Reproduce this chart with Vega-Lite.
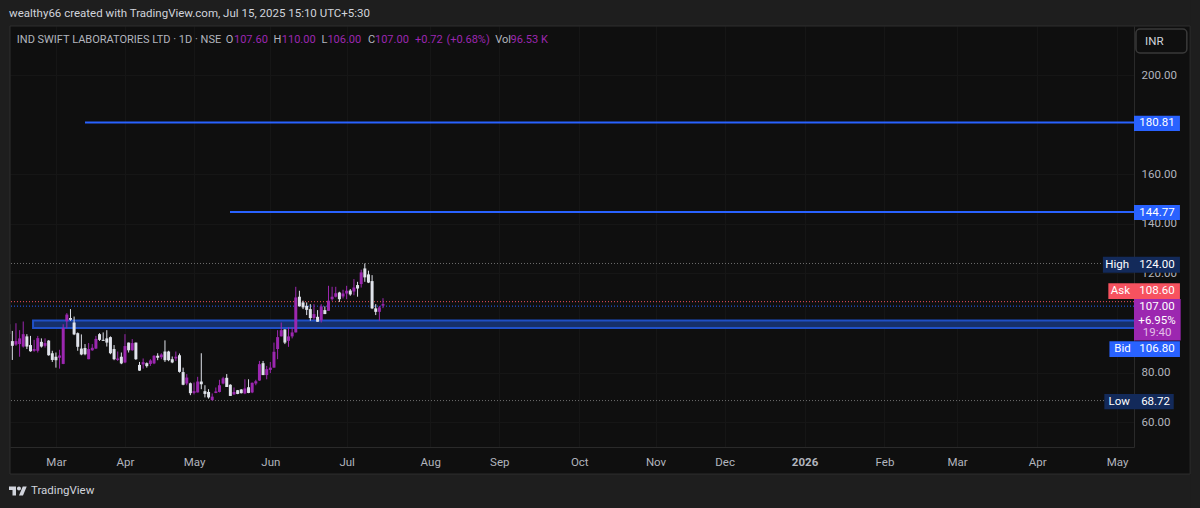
{"$schema":"https://vega.github.io/schema/vega-lite/v6.json","width":1124,"height":421,"autosize":{"type":"none"},"padding":{"left":10,"top":26,"right":66,"bottom":61},"background":"#0f0f0f",
"config":{"view":{"stroke":null},"text":{"font":"Roboto","fontSize":12},"axis":{"labelFont":"Roboto"}},
"datasets":{
"candles":[
{"bar":0,"high":100.2,"low":95.1,"open":99.5,"close":95.5,"kind":"down"},
{"bar":1,"high":96.8,"low":85.1,"open":92.7,"close":90.8,"kind":"down"},
{"bar":2,"high":99.9,"low":90.8,"open":91.3,"close":92.7,"kind":"up"},
{"bar":3,"high":97.1,"low":86.4,"open":91.5,"close":93.8,"kind":"up"},
{"bar":4,"high":100.6,"low":90.1,"open":90.5,"close":95.5,"kind":"up"},
{"bar":5,"high":95.5,"low":89.5,"open":94.6,"close":90.5,"kind":"down"},
{"bar":6,"high":94.8,"low":88.4,"open":91.1,"close":88.6,"kind":"down"},
{"bar":7,"high":93.2,"low":88.4,"open":88.8,"close":89.5,"kind":"up"},
{"bar":8,"high":94.8,"low":88.1,"open":88.8,"close":93.9,"kind":"up"},
{"bar":9,"high":93.8,"low":90.1,"open":92.4,"close":90.5,"kind":"down"},
{"bar":10,"high":93.8,"low":90.1,"open":90.8,"close":91.9,"kind":"up"},
{"bar":11,"high":93.1,"low":86.8,"open":92.9,"close":87.0,"kind":"down"},
{"bar":12,"high":88.8,"low":84.3,"open":87.8,"close":85.1,"kind":"down"},
{"bar":13,"high":88.1,"low":82.0,"open":86.4,"close":85.0,"kind":"down"},
{"bar":14,"high":89.2,"low":81.6,"open":86.0,"close":86.9,"kind":"up"},
{"bar":15,"high":99.5,"low":83.4,"open":83.5,"close":98.0,"kind":"up"},
{"bar":16,"high":104.0,"low":97.8,"open":100.7,"close":103.4,"kind":"up"},
{"bar":17,"high":105.6,"low":100.9,"open":102.0,"close":101.3,"kind":"down"},
{"bar":18,"high":102.6,"low":95.1,"open":100.2,"close":95.4,"kind":"down"},
{"bar":19,"high":96.2,"low":88.8,"open":95.9,"close":90.4,"kind":"down"},
{"bar":20,"high":95.4,"low":87.0,"open":89.7,"close":87.3,"kind":"down"},
{"bar":21,"high":91.5,"low":87.0,"open":89.9,"close":87.4,"kind":"down"},
{"bar":22,"high":91.9,"low":85.4,"open":85.4,"close":89.5,"kind":"up"},
{"bar":23,"high":91.5,"low":88.8,"open":89.0,"close":90.0,"kind":"up"},
{"bar":24,"high":94.8,"low":89.5,"open":89.7,"close":93.6,"kind":"up"},
{"bar":25,"high":95.9,"low":92.8,"open":95.5,"close":93.2,"kind":"down"},
{"bar":26,"high":96.2,"low":92.8,"open":93.2,"close":92.8,"kind":"down"},
{"bar":27,"high":97.1,"low":90.5,"open":93.8,"close":92.1,"kind":"down"},
{"bar":28,"high":94.6,"low":87.4,"open":94.3,"close":87.8,"kind":"down"},
{"bar":29,"high":91.1,"low":85.0,"open":89.5,"close":85.4,"kind":"down"},
{"bar":30,"high":88.5,"low":84.7,"open":85.1,"close":85.7,"kind":"up"},
{"bar":31,"high":88.1,"low":83.4,"open":86.4,"close":83.7,"kind":"down"},
{"bar":32,"high":95.5,"low":83.8,"open":84.1,"close":90.7,"kind":"up"},
{"bar":33,"high":92.1,"low":88.1,"open":92.1,"close":89.0,"kind":"down"},
{"bar":34,"high":93.5,"low":88.8,"open":89.0,"close":91.9,"kind":"up"},
{"bar":35,"high":92.1,"low":85.1,"open":92.1,"close":85.4,"kind":"down"},
{"bar":36,"high":84.3,"low":80.7,"open":83.1,"close":80.8,"kind":"down"},
{"bar":37,"high":85.7,"low":81.6,"open":83.3,"close":84.2,"kind":"up"},
{"bar":38,"high":84.1,"low":82.0,"open":83.8,"close":82.6,"kind":"down"},
{"bar":39,"high":85.4,"low":82.7,"open":83.5,"close":84.9,"kind":"up"},
{"bar":40,"high":87.0,"low":83.4,"open":83.7,"close":86.8,"kind":"up"},
{"bar":41,"high":87.8,"low":85.0,"open":86.8,"close":86.0,"kind":"down"},
{"bar":42,"high":87.8,"low":85.4,"open":86.2,"close":87.3,"kind":"up"},
{"bar":43,"high":93.0,"low":84.3,"open":88.5,"close":85.0,"kind":"down"},
{"bar":44,"high":88.8,"low":84.6,"open":88.5,"close":85.0,"kind":"down"},
{"bar":45,"high":86.5,"low":83.8,"open":85.4,"close":84.1,"kind":"down"},
{"bar":46,"high":88.5,"low":84.7,"open":85.7,"close":86.4,"kind":"up"},
{"bar":47,"high":87.7,"low":80.0,"open":87.0,"close":80.3,"kind":"down"},
{"bar":48,"high":82.0,"low":74.9,"open":80.2,"close":75.1,"kind":"down"},
{"bar":49,"high":79.4,"low":74.9,"open":75.6,"close":78.0,"kind":"up"},
{"bar":50,"high":76.0,"low":70.9,"open":75.7,"close":71.7,"kind":"down"},
{"bar":51,"high":76.0,"low":71.2,"open":71.8,"close":72.5,"kind":"up"},
{"bar":52,"high":78.3,"low":72.0,"open":72.0,"close":76.4,"kind":"up"},
{"bar":53,"high":87.8,"low":73.3,"open":76.4,"close":75.3,"kind":"down"},
{"bar":54,"high":74.9,"low":70.0,"open":72.5,"close":71.4,"kind":"down"},
{"bar":55,"high":73.3,"low":69.5,"open":72.2,"close":70.0,"kind":"down"},
{"bar":56,"high":71.6,"low":68.72,"open":68.9,"close":70.3,"kind":"up"},
{"bar":57,"high":74.0,"low":71.7,"open":71.8,"close":72.4,"kind":"up"},
{"bar":58,"high":77.1,"low":72.0,"open":72.2,"close":74.9,"kind":"up"},
{"bar":59,"high":78.3,"low":75.3,"open":75.6,"close":77.7,"kind":"up"},
{"bar":60,"high":79.4,"low":74.2,"open":77.9,"close":74.2,"kind":"down"},
{"bar":61,"high":75.3,"low":70.6,"open":75.1,"close":70.6,"kind":"down"},
{"bar":62,"high":74.0,"low":71.0,"open":71.2,"close":72.2,"kind":"up"},
{"bar":63,"high":73.0,"low":71.3,"open":72.9,"close":71.4,"kind":"down"},
{"bar":64,"high":73.3,"low":71.6,"open":73.2,"close":71.7,"kind":"down"},
{"bar":65,"high":77.3,"low":71.3,"open":71.6,"close":73.6,"kind":"up"},
{"bar":66,"high":77.3,"low":71.7,"open":74.1,"close":71.8,"kind":"down"},
{"bar":67,"high":76.0,"low":71.7,"open":72.0,"close":75.9,"kind":"up"},
{"bar":68,"high":77.1,"low":74.9,"open":75.6,"close":76.5,"kind":"up"},
{"bar":69,"high":84.7,"low":76.7,"open":76.8,"close":83.4,"kind":"up"},
{"bar":70,"high":84.7,"low":79.0,"open":83.8,"close":79.0,"kind":"down"},
{"bar":71,"high":82.7,"low":77.3,"open":79.0,"close":81.4,"kind":"up"},
{"bar":72,"high":84.3,"low":79.8,"open":81.1,"close":82.0,"kind":"up"},
{"bar":73,"high":92.1,"low":82.0,"open":82.0,"close":88.4,"kind":"up"},
{"bar":74,"high":97.1,"low":85.4,"open":89.5,"close":94.3,"kind":"up"},
{"bar":75,"high":100.2,"low":94.6,"open":94.6,"close":97.1,"kind":"up"},
{"bar":76,"high":97.5,"low":91.5,"open":97.4,"close":92.1,"kind":"down"},
{"bar":77,"high":98.2,"low":90.4,"open":92.8,"close":94.6,"kind":"up"},
{"bar":78,"high":98.2,"low":93.8,"open":94.6,"close":96.2,"kind":"up"},
{"bar":79,"high":114.6,"low":96.2,"open":96.2,"close":110.3,"kind":"up"},
{"bar":80,"high":113.0,"low":106.7,"open":110.6,"close":106.7,"kind":"down"},
{"bar":81,"high":109.0,"low":105.6,"open":108.3,"close":106.3,"kind":"down"},
{"bar":82,"high":108.3,"low":103.2,"open":106.9,"close":105.3,"kind":"down"},
{"bar":83,"high":107.6,"low":100.9,"open":105.6,"close":102.0,"kind":"down"},
{"bar":84,"high":107.6,"low":101.3,"open":102.0,"close":103.6,"kind":"up"},
{"bar":85,"high":105.2,"low":100.5,"open":102.5,"close":100.5,"kind":"down"},
{"bar":86,"high":107.6,"low":100.2,"open":101.1,"close":106.7,"kind":"up"},
{"bar":87,"high":106.7,"low":103.6,"open":105.2,"close":103.6,"kind":"down"},
{"bar":88,"high":115.0,"low":104.9,"open":104.9,"close":109.0,"kind":"up"},
{"bar":89,"high":114.6,"low":109.0,"open":109.6,"close":110.6,"kind":"up"},
{"bar":90,"high":114.6,"low":110.3,"open":110.6,"close":112.0,"kind":"up"},
{"bar":91,"high":112.6,"low":108.5,"open":112.3,"close":109.6,"kind":"down"},
{"bar":92,"high":113.4,"low":109.9,"open":110.7,"close":111.9,"kind":"up"},
{"bar":93,"high":115.0,"low":109.6,"open":111.9,"close":113.0,"kind":"up"},
{"bar":94,"high":113.7,"low":111.0,"open":113.1,"close":111.5,"kind":"down"},
{"bar":95,"high":117.7,"low":111.2,"open":112.7,"close":114.3,"kind":"up"},
{"bar":96,"high":116.6,"low":110.6,"open":115.3,"close":113.9,"kind":"down"},
{"bar":97,"high":121.5,"low":114.3,"open":115.7,"close":120.4,"kind":"up"},
{"bar":98,"high":124.0,"low":116.6,"open":122.0,"close":118.4,"kind":"down"},
{"bar":99,"high":121.1,"low":116.1,"open":119.6,"close":116.3,"kind":"down"},
{"bar":100,"high":119.3,"low":105.6,"open":116.9,"close":105.9,"kind":"down"},
{"bar":101,"high":107.6,"low":103.2,"open":105.9,"close":104.5,"kind":"down"},
{"bar":102,"high":106.9,"low":100.9,"open":104.5,"close":106.3,"kind":"up"},
{"bar":103,"high":110.0,"low":106.0,"open":107.6,"close":107.0,"kind":"up"}
],
"priceLines":[{"price":124,"kind":"extreme"},{"price":68.72,"kind":"extreme"},{"price":108.6,"kind":"ask"},{"price":106.8,"kind":"bid"}],
"levels":[{"barFrom":21,"barTo":309.66,"price":180.81,"kind":"bid"},{"barFrom":60.9,"barTo":309.66,"price":144.77,"kind":"bid"}],
"zone":[{"barFrom":6.7,"barTo":313,"priceLow":98.0,"priceHigh":101.0}],
"frame":[
{"barFrom":-5,"barTo":0.36,"priceLow":20,"priceHigh":240,"kind":"frame"},
{"barFrom":-5,"barTo":335,"priceLow":219.76,"priceHigh":240,"kind":"frame"},
{"barFrom":-5,"barTo":335,"priceLow":20,"priceHigh":39.1,"kind":"frame"},
{"barFrom":325.1,"barTo":335,"priceLow":20,"priceHigh":240,"kind":"frame"}],
"tags":[
{"barFrom":309.66,"barTo":322.3,"priceLow":177.4,"priceHigh":183.6,"kind":"bid"},
{"barFrom":309.66,"barTo":322.3,"priceLow":141.5,"priceHigh":147.6,"kind":"bid"},
{"barFrom":301.1,"barTo":322.3,"priceLow":120.3,"priceHigh":126.7,"kind":"navy"},
{"barFrom":302.6,"barTo":322.3,"priceLow":109.7,"priceHigh":116,"kind":"ask"},
{"barFrom":309.66,"barTo":322.5,"priceLow":92.9,"priceHigh":109.7,"kind":"up"},
{"barFrom":302.9,"barTo":322.3,"priceLow":86.3,"priceHigh":92.6,"kind":"bid"},
{"barFrom":301.5,"barTo":320.6,"priceLow":65.2,"priceHigh":71.4,"kind":"navy"}],
"tagText":[
{"label":"180.81","bar":316,"price":180.5,"kind":"white"},
{"label":"144.77","bar":316,"price":144.5,"kind":"white"},
{"label":"High","bar":305,"price":123.5,"kind":"white"},
{"label":"124.00","bar":316,"price":123.5,"kind":"white"},
{"label":"Ask","bar":305.9,"price":113,"kind":"white"},
{"label":"108.60","bar":316,"price":113,"kind":"white"},
{"label":"107.00","bar":316,"price":106.6,"kind":"white"},
{"label":"+6.95%","bar":316,"price":101,"kind":"white"},
{"label":"19:40","bar":316,"price":95.8,"kind":"pale"},
{"label":"Bid","bar":306.5,"price":89.5,"kind":"white"},
{"label":"106.80","bar":316,"price":89.5,"kind":"white"},
{"label":"Low","bar":305.6,"price":68.3,"kind":"white"},
{"label":"68.72","bar":315.6,"price":68.3,"kind":"white"}],
"header":[
{"label":"IND SWIFT LABORATORIES LTD · 1D · NSE","bar":2.23,"price":214.3,"kind":"dim"},
{"label":"O","bar":59.7,"price":214.3,"kind":"dim"},
{"label":"107.60","bar":62,"price":214.3,"kind":"up"},
{"label":"H","bar":72.9,"price":214.3,"kind":"dim"},
{"label":"110.00","bar":75.15,"price":214.3,"kind":"up"},
{"label":"L","bar":86.05,"price":214.3,"kind":"dim"},
{"label":"106.00","bar":87.7,"price":214.3,"kind":"up"},
{"label":"C","bar":98.85,"price":214.3,"kind":"dim"},
{"label":"107.00","bar":100.8,"price":214.3,"kind":"up"},
{"label":"+0.72","bar":111.8,"price":214.3,"kind":"up"},
{"label":"(+0.68%)","bar":120.45,"price":214.3,"kind":"up"},
{"label":"Vol","bar":133.9,"price":214.3,"kind":"dim"},
{"label":"96.53 K","bar":138.1,"price":214.3,"kind":"up"}],
"notes":[
{"label":"wealthy66 created with TradingView.com, Jul 15, 2025 15:10 UTC+5:30","bar":0.1,"price":224.6,"kind":"muted"},
{"label":"INR","bar":312.7,"price":213.5,"kind":"muted"},
{"label":"TradingView","bar":6.14,"price":32.26,"kind":"muted"}]
},
"encoding":{"color":{"field":"kind","type":"nominal","legend":null,"scale":{"domain":["up","down","extreme","ask","bid","navy","frame","white","pale","muted","dim"],"range":["#9c27b0","#e0e3eb","#6e6e6e","#f7525f","#2962ff","#132a5a","#1e1e1e","#ffffff","#e1bee7","#d1d4dc","#b2b5be"]}}},
"layer":[
{"data":{"name":"priceLines"},"mark":{"type":"rule","strokeWidth":1,"strokeDash":[1,2]},
"encoding":{
"y":{"field":"price","type":"quantitative","title":null,"scale":{"domain":[50,219.76],"nice":false,"zero":false},
"axis":{"orient":"right","values":[200,160,140,120,80,60],"format":".2f","labelColor":"#b2b5be","labelFontSize":11.5,"labelPadding":7,"labelAlign":"left","ticks":false,"domainColor":"#2a2a2a","gridColor":"#161616","grid":true,"title":null}}}},
{"data":{"name":"zone"},"mark":{"type":"rect","clip":true,"fill":"#16306b","stroke":"#1f50c8","strokeWidth":2},
"encoding":{"color":{"value":null},
"x":{"field":"barFrom","type":"quantitative","title":null,"scale":{"domain":[0.36,309.66],"nice":false,"zero":false,"padding":0},
"axis":{"orient":"bottom","values":[13,32,51,72,93,116,135,157,178,197,219,241,261,283,305],"labelExpr":"['Mar','Apr','May','Jun','Jul','Aug','Sep','Oct','Nov','Dec','2026','Feb','Mar','Apr','May'][indexof([13,32,51,72,93,116,135,157,178,197,219,241,261,283,305],datum.value)]","labelColor":"#b2b5be","labelFontSize":11.5,"labelPadding":9,"labelFontWeight":{"condition":{"test":"datum.value==219","value":"bold"},"value":"normal"},"ticks":false,"domainColor":"#2a2a2a","gridColor":"#161616","grid":true,"title":null}},
"x2":{"field":"barTo"},"y":{"field":"priceLow","type":"quantitative"},"y2":{"field":"priceHigh"}}},
{"data":{"name":"candles"},"mark":{"type":"rule","strokeWidth":1},
"encoding":{"x":{"field":"bar","type":"quantitative"},"y":{"field":"low","type":"quantitative"},"y2":{"field":"high"}}},
{"data":{"name":"candles"},"mark":{"type":"bar","width":3,"orient":"vertical"},
"encoding":{"x":{"field":"bar","type":"quantitative"},"y":{"field":"open","type":"quantitative"},"y2":{"field":"close"}}},
{"data":{"name":"levels"},"mark":{"type":"rule","strokeWidth":2},
"encoding":{"x":{"field":"barFrom","type":"quantitative"},"x2":{"field":"barTo"},"y":{"field":"price","type":"quantitative"}}},
{"data":{"name":"frame"},"mark":{"type":"rect"},
"encoding":{"x":{"field":"barFrom","type":"quantitative"},"x2":{"field":"barTo"},"y":{"field":"priceLow","type":"quantitative"},"y2":{"field":"priceHigh"}}},
{"data":{"values":[{"barFrom":0.36,"barTo":325.1,"priceLow":39.1,"priceHigh":219.76}]},"mark":{"type":"rect","fill":null,"stroke":"#2e2e2e","strokeWidth":1},
"encoding":{"color":{"value":null},"x":{"field":"barFrom","type":"quantitative"},"x2":{"field":"barTo"},"y":{"field":"priceLow","type":"quantitative"},"y2":{"field":"priceHigh"}}},
{"data":{"values":[{"barFrom":310.2,"barTo":324.2,"priceLow":208.9,"priceHigh":218.5}]},"mark":{"type":"rect","fill":null,"stroke":"#3a3a3a","strokeWidth":1.5,"cornerRadius":4},
"encoding":{"color":{"value":null},"x":{"field":"barFrom","type":"quantitative"},"x2":{"field":"barTo"},"y":{"field":"priceLow","type":"quantitative"},"y2":{"field":"priceHigh"}}},
{"data":{"name":"tags"},"mark":{"type":"rect"},
"encoding":{"x":{"field":"barFrom","type":"quantitative"},"x2":{"field":"barTo"},"y":{"field":"priceLow","type":"quantitative"},"y2":{"field":"priceHigh"}}},
{"data":{"name":"tagText"},"mark":{"type":"text","align":"center","baseline":"middle","fontSize":11.5},
"encoding":{"x":{"field":"bar","type":"quantitative"},"y":{"field":"price","type":"quantitative"},"text":{"field":"label"}}},
{"data":{"name":"header"},"mark":{"type":"text","align":"left","baseline":"middle","fontSize":11},
"encoding":{"x":{"field":"bar","type":"quantitative"},"y":{"field":"price","type":"quantitative"},"text":{"field":"label"}}},
{"data":{"name":"notes"},"mark":{"type":"text","align":"left","baseline":"middle","fontSize":11.5},
"encoding":{"x":{"field":"bar","type":"quantitative"},"y":{"field":"price","type":"quantitative"},"text":{"field":"label"}}},
{"data":{"values":[{"brand":"TradingView"}]},"mark":{"type":"point","filled":true,"size":324,"opacity":1,"strokeWidth":0,"shape":"M-0.222 0.5H-0.611V-0.111H-1V-0.5H-0.222ZM-0.111 -0.278a0.222 0.222 0 1 0 0.444 0a0.222 0.222 0 1 0 -0.444 0ZM0.556 0.5H0.111L0.528 -0.5H0.972Z"},
"encoding":{"color":{"value":"#d1d4dc"},"x":{"datum":2.56,"type":"quantitative"},"y":{"datum":32.26,"type":"quantitative"}}}
]}
